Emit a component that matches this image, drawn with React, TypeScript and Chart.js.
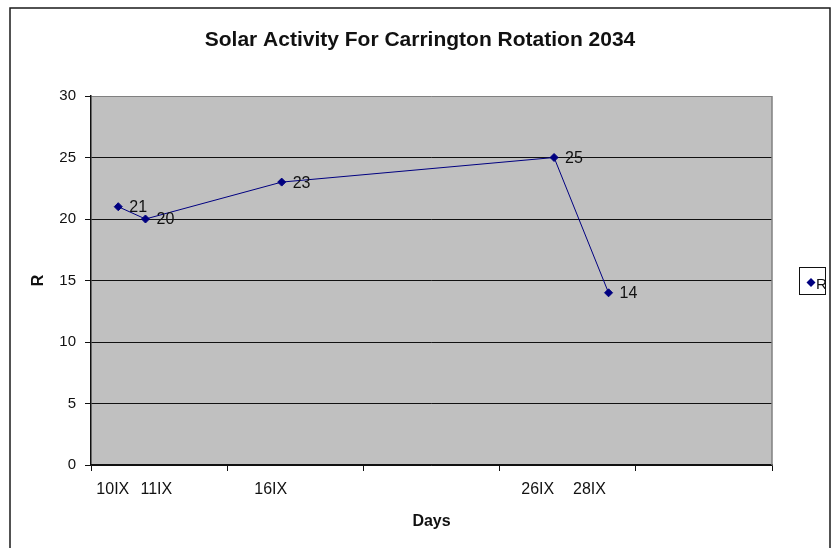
import React, { useEffect, useRef } from "react";
import { Chart, registerables } from "chart.js";

Chart.register(...registerables);

// ---- data ----
const chartTitle = "Solar Activity For Carrington Rotation 2034";
const xTitle = "Days";
const yTitle = "R";
const seriesName = "R";
const days = [10, 11, 16, 26, 28];
const rValues = [21, 20, 23, 25, 14];
const xTickLabels = ["10IX", "11IX", "16IX", "26IX", "28IX"];
const xTickLabelDays = [9.8, 11.4, 15.6, 25.4, 27.3];
const dayMin = 9;
const dayMax = 34;
const dayStep = 5;
const rMin = 0;
const rMax = 30;
const rStep = 5;

const W = 839;
const H = 548;
const FONT = "'Liberation Sans', Arial, sans-serif";

const framePlugin = {
  id: "frame",
  beforeDraw(chart: any) {
    const { ctx, chartArea } = chart;
    ctx.save();
    ctx.fillStyle = "#ffffff";
    ctx.fillRect(0, 0, chart.width, chart.height);
    ctx.fillStyle = "#c0c0c0";
    ctx.fillRect(chartArea.left, chartArea.top, chartArea.right - chartArea.left, chartArea.bottom - chartArea.top);
    ctx.strokeStyle = "#1a1a1a";
    ctx.lineWidth = 1.5;
    ctx.beginPath();
    ctx.moveTo(10, chart.height + 5);
    ctx.lineTo(10, 8);
    ctx.lineTo(830, 8);
    ctx.lineTo(830, chart.height + 5);
    ctx.stroke();
    ctx.restore();
  },
  beforeDatasetsDraw(chart: any) {
    const { ctx, chartArea } = chart;
    ctx.save();
    ctx.strokeStyle = "#808080";
    ctx.lineWidth = 1.5;
    ctx.beginPath();
    ctx.moveTo(chartArea.right, chartArea.top);
    ctx.lineTo(chartArea.right, chartArea.bottom);
    ctx.stroke();
    ctx.restore();
  },
  afterDatasetsDraw(chart: any) {
    const { ctx } = chart;
    const meta = chart.getDatasetMeta(0);
    const ds = chart.data.datasets[0];
    ctx.save();
    ctx.fillStyle = "#111111";
    ctx.font = `16px ${FONT}`;
    ctx.textAlign = "left";
    ctx.textBaseline = "middle";
    meta.data.forEach((el: any, i: number) => {
      const v = ds.data[i].y;
      ctx.fillText(String(v), el.x + 11, el.y + 1);
    });
    ctx.restore();
  },
  afterDraw(chart: any) {
    const { ctx, chartArea } = chart;
    const ds = chart.data.datasets[0];
    const cy = (chartArea.top + chartArea.bottom) / 2;
    const bx = chartArea.right + 27;
    const bw = 26;
    const bh = 27;
    const by = cy - bh / 2;
    ctx.save();
    ctx.fillStyle = "#ffffff";
    ctx.fillRect(bx, by, bw, bh);
    ctx.strokeStyle = "#111111";
    ctx.lineWidth = 1;
    ctx.strokeRect(bx + 0.5, by + 0.5, bw, bh);
    // marker
    const mx = bx + 12;
    const my = by + bh / 2 + 2;
    ctx.fillStyle = ds.borderColor;
    ctx.beginPath();
    ctx.moveTo(mx, my - 4.5);
    ctx.lineTo(mx + 4.5, my);
    ctx.lineTo(mx, my + 4.5);
    ctx.lineTo(mx - 4.5, my);
    ctx.closePath();
    ctx.fill();
    // text, clipped by box
    ctx.beginPath();
    ctx.rect(bx, by, bw, bh);
    ctx.clip();
    ctx.fillStyle = "#111111";
    ctx.font = `15px ${FONT}`;
    ctx.textAlign = "left";
    ctx.textBaseline = "middle";
    ctx.fillText(ds.label, mx + 5, my + 2);
    ctx.restore();
  },
};

export default function App() {
  const ref = useRef<HTMLCanvasElement | null>(null);

  useEffect(() => {
    if (!ref.current) return;
    const majorTicks: number[] = [];
    for (let v = dayMin; v <= dayMax; v += dayStep) majorTicks.push(v);

    const chart = new Chart(ref.current, {
      type: "scatter",
      data: {
        datasets: [
          {
            label: seriesName,
            data: days.map((d, i) => ({ x: d, y: rValues[i] })),
            showLine: true,
            borderColor: "#000080",
            backgroundColor: "#000080",
            borderWidth: 1,
            pointStyle: "rectRot",
            pointRadius: 4,
            pointHoverRadius: 4,
            pointBorderWidth: 1,
          },
        ],
      },
      options: {
        animation: false,
        responsive: false,
        events: [],
        layout: { padding: { left: 10, right: 9, top: 0, bottom: 0 } },
        plugins: {
          legend: { display: false },
          tooltip: { enabled: false },
          title: {
            display: true,
            text: chartTitle,
            color: "#111111",
            font: { family: FONT, size: 21, weight: "bold" },
            padding: { top: 28, bottom: 42.8 },
          },
        },
        scales: {
          x: {
            type: "linear",
            position: "bottom",
            weight: 0,
            min: dayMin,
            max: dayMax,
            afterBuildTicks: (s: any) => {
              s.ticks = majorTicks.map((v) => ({ value: v }));
            },
            ticks: { display: false },
            grid: {
              drawOnChartArea: false,
              drawTicks: true,
              tickLength: 6,
              color: "#111111",
              lineWidth: 1,
            },
            border: { color: "#111111", width: 1.5 },
            afterFit: (s: any) => {
              s.height = 6;
            },
          },
          x2: {
            type: "linear",
            position: "bottom",
            weight: 1,
            min: dayMin,
            max: dayMax,
            afterBuildTicks: (s: any) => {
              s.ticks = xTickLabelDays.map((v) => ({ value: v }));
            },
            ticks: {
              autoSkip: false,
              maxRotation: 0,
              minRotation: 0,
              padding: 9.4,
              color: "#111111",
              font: { family: FONT, size: 16 },
              callback: (_v: any, i: number) => xTickLabels[i],
            },
            grid: { display: false, drawTicks: false },
            border: { display: false },
            title: {
              display: true,
              text: xTitle,
              color: "#111111",
              font: { family: FONT, size: 16, weight: "bold" },
              padding: { top: 0, bottom: 16.4 },
            },
            afterFit: (s: any) => {
              s.height = 77;
            },
          },
          y: {
            type: "linear",
            position: "left",
            min: rMin,
            max: rMax,
            ticks: {
              stepSize: rStep,
              padding: 9,
              color: "#111111",
              font: { family: FONT, size: 15 },
            },
            grid: {
              color: (c: any) => (c.tick && c.tick.value === rMax ? "#808080" : "#111111"),
              tickColor: "#111111",
              tickLength: 6,
              lineWidth: 1,
            },
            border: { color: "#111111", width: 1.5 },
            title: {
              display: true,
              text: yTitle,
              color: "#111111",
              font: { family: FONT, size: 16, weight: "bold" },
              padding: { top: 19.4, bottom: 0 },
            },
            afterFit: (s: any) => {
              s.width = 81;
            },
          },
          y2: {
            type: "linear",
            position: "right",
            ticks: { display: false },
            grid: { display: false, drawTicks: false },
            border: { display: false },
            afterFit: (s: any) => {
              s.width = 58;
            },
          },
        },
      },
      plugins: [framePlugin],
    } as any);
    return () => chart.destroy();
  }, []);

  return (
    <div style={{ position: "absolute", left: 0, top: 0, width: W, height: H, background: "#fff" }}>
      <canvas ref={ref} width={W} height={H} style={{ width: W, height: H, display: "block" }} />
    </div>
  );
}
